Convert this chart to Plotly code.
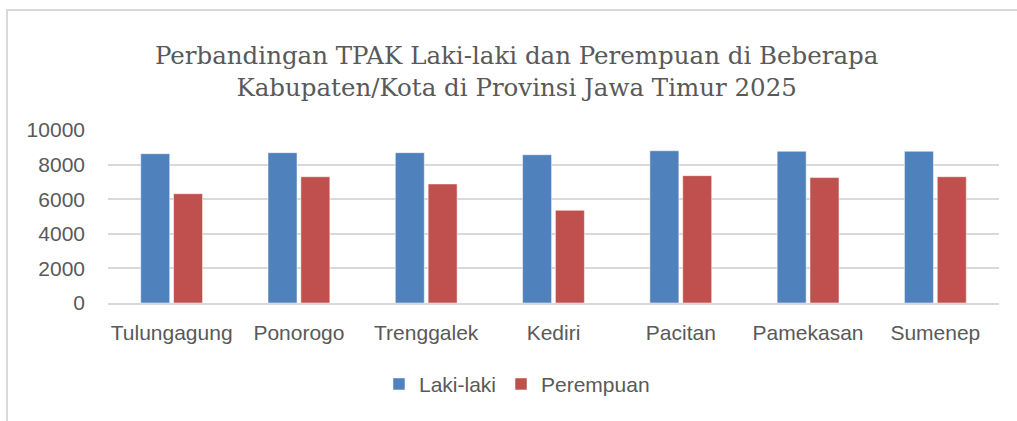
import plotly.graph_objects as go

categories = ["Tulungagung", "Ponorogo", "Trenggalek", "Kediri", "Pacitan", "Pamekasan", "Sumenep"]
laki_laki = [8630, 8690, 8690, 8570, 8800, 8770, 8770]
perempuan = [6320, 7300, 6880, 5360, 7360, 7250, 7300]
y_ticks = [0, 2000, 4000, 6000, 8000, 10000]
y_tick_text = ["0", "2000", "4000", "6000", "8000", "10000"]

fig = go.Figure()
fig.add_trace(go.Bar(x=categories, y=laki_laki, name="Laki-laki",
                     marker=dict(color="#4F81BD", line=dict(color="rgba(255,255,255,0.5)", width=1))))
fig.add_trace(go.Bar(x=categories, y=perempuan, name="Perempuan",
                     marker=dict(color="#C0504D", line=dict(color="rgba(255,255,255,0.5)", width=1))))

fig.update_layout(
    width=1017, height=421,
    margin=dict(l=108, r=18, t=130, b=118),
    paper_bgcolor="white", plot_bgcolor="white",
    barmode="group", bargap=0.484, bargroupgap=0.117,
    title=dict(text="Perbandingan TPAK Laki-laki dan Perempuan di Beberapa<br>Kabupaten/Kota di Provinsi Jawa Timur 2025",
               x=0.508, xanchor="center", y=0.848, yanchor="middle",
               font=dict(family="DejaVu Serif", size=24.5, color="#595959")),
    font=dict(family="Liberation Sans", color="#595959"),
    showlegend=True,
    legend=dict(orientation="h", x=0.459, xanchor="center", y=-0.47, yanchor="middle",
                font=dict(size=21, color="#595959"), itemwidth=30, traceorder="normal"),
    shapes=[dict(type="path", xref="paper", yref="paper",
                 path="M -0.1134 -0.80 L -0.1134 1.6936 L 1.05 1.6936",
                 line=dict(color="#D9D9D9", width=2))],
)
fig.update_yaxes(range=[0, 10000], tickvals=y_ticks, ticktext=y_tick_text, showgrid=True,
                 gridcolor="#D9D9D9", gridwidth=1.5,
                 zeroline=False, showline=False, tickfont=dict(size=21, color="#595959"),
                 ticks="", ticklabelstandoff=22)
fig.update_xaxes(showline=True, linecolor="#D9D9D9", linewidth=1.5, tickfont=dict(size=21, color="#595959"),
                 ticks="", ticklabelstandoff=10)

fig.write_html("out.html", config={"displayModeBar": False},
               post_script="document.body.style.margin='0';")
